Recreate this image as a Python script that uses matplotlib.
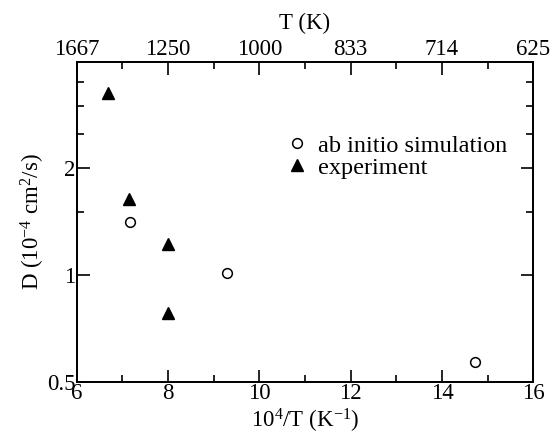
"""
Diffusion coefficient vs inverse temperature (Arrhenius plot),
ab initio simulation against experiment. Output: out.png
"""

import numpy as np
import matplotlib
matplotlib.use("Agg")
import matplotlib.pyplot as plt
from matplotlib.ticker import FixedLocator, NullFormatter, FuncFormatter

plt.rcParams["font.family"] = ["Liberation Serif", "DejaVu Serif"]
plt.rcParams["mathtext.fontset"] = "custom"
plt.rcParams["mathtext.rm"] = "Liberation Serif"
plt.rcParams["mathtext.it"] = "Liberation Serif:italic"

# data (x = 10^4/T in 1/K, D in 1e-4 cm^2/s)
sim_x = [7.18, 9.29, 14.72]
sim_D = [1.41, 1.01, 0.569]

exp_x = [6.68, 7.15, 8.0, 8.0]
exp_D = [3.26, 1.635, 1.22, 0.783]

x_major = [6, 8, 10, 12, 14, 16]
x_minor = [7, 9, 11, 13, 15]
y_major = [0.5, 1, 2]
y_minor = [1.5, 2.5, 3, 3.5]

FS = 16.5

fig = plt.figure(figsize=(5.55, 4.37), dpi=100)
ax = fig.add_axes([0.138, 0.127, 0.823, 0.732])

ax.plot(sim_x, sim_D, "o", mfc="white", mec="black", mew=1.1, ms=7,
        label="ab initio simulation", linestyle="none")
ax.plot(exp_x, exp_D, "^", color="black", ms=8.5,
        label="experiment", linestyle="none")

ax.set_xlim(6, 16)
ax.set_yscale("log")
ax.set_ylim(0.5, 4)

ax.xaxis.set_major_locator(FixedLocator(x_major))
ax.xaxis.set_minor_locator(FixedLocator(x_minor))
ax.yaxis.set_major_locator(FixedLocator(y_major))
ax.yaxis.set_minor_locator(FixedLocator(y_minor))
ax.yaxis.set_major_formatter(FuncFormatter(lambda v, p: f"{v:g}"))
ax.yaxis.set_minor_formatter(NullFormatter())

ax.tick_params(which="both", direction="in", right=True, labelsize=FS, width=1.2)
ax.tick_params(which="major", length=9, pad=1)
ax.tick_params(which="minor", length=5)

ax.set_xlabel(r"10$^{4}$/T (K$^{-1}$)", fontsize=FS, labelpad=2)
ax.set_ylabel(r"D (10$^{-4}$ cm$^{2}$/s)", fontsize=FS, labelpad=0)

# top axis in temperature
top = ax.twiny()
top.set_xlim(ax.get_xlim())
top.xaxis.set_major_locator(FixedLocator(x_major))
top.xaxis.set_minor_locator(FixedLocator(x_minor))
top.xaxis.set_major_formatter(FuncFormatter(lambda v, p: f"{1e4 / v:.0f}"))
top.tick_params(which="both", direction="in", labelsize=FS, width=1.2)
top.tick_params(which="major", length=9, pad=1)
top.tick_params(which="minor", length=5)
top.set_xlabel("T (K)", fontsize=FS, labelpad=7)

for a in (ax, top):
    for s in a.spines.values():
        s.set_linewidth(1.3)

ax.legend(loc="upper left", bbox_to_anchor=(0.455, 0.772), frameon=False,
          fontsize=17.5, handlelength=1.0, handletextpad=0.4,
          labelspacing=0.0, borderaxespad=0, borderpad=0)

fig.savefig("out.png", dpi=100)
